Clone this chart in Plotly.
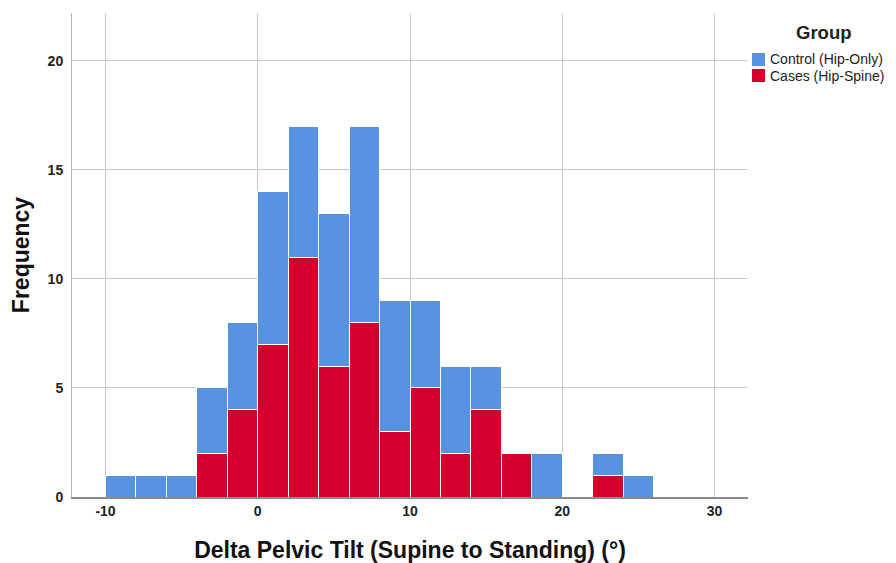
import plotly.graph_objects as go

bin_left = [-10, -8, -6, -4, -2, 0, 2, 4, 6, 8, 10, 12, 14, 16, 18, 20, 22, 24]
total_counts = [1, 1, 1, 5, 8, 14, 17, 13, 17, 9, 9, 6, 6, 2, 2, 0, 2, 1]
cases_counts = [0, 0, 0, 2, 4, 7, 11, 6, 8, 3, 5, 2, 4, 2, 0, 0, 1, 0]
control_counts = [t - c for t, c in zip(total_counts, cases_counts)]
bin_width = 2
centers = [b + bin_width / 2 for b in bin_left]

x_ticks = [-10, 0, 10, 20, 30]
y_ticks = [0, 5, 10, 15, 20]
legend_labels = ["Control (Hip-Only)", "Cases (Hip-Spine)"]

BLUE = "#5793e1"
RED = "#d3002e"
FONT = "Liberation Sans, Arial, sans-serif"

fig = go.Figure()
fig.add_trace(go.Bar(x=centers, y=cases_counts, width=bin_width,
                     name=legend_labels[1], marker=dict(color=RED, line=dict(color="white", width=1))))
fig.add_trace(go.Bar(x=centers, y=control_counts, width=bin_width,
                     name=legend_labels[0], marker=dict(color=BLUE, line=dict(color="white", width=1))))

W, H = 896, 563
OFF = 8  # page body margin
L, R, T, B = 64, 156, 5, 74
pw = W - L - R
ph = H - T - B

def px_x(x):
    return (x - OFF - L) / pw

def px_y(y):
    return (H - B - (y - OFF)) / ph

shapes = []
annotations = []
for i, (lab, col) in enumerate(zip(legend_labels, [BLUE, RED])):
    y0 = 53 + i * 16
    shapes.append(dict(type="rect", xref="paper", yref="paper",
                       x0=px_x(752), x1=px_x(765), y0=px_y(y0 + 13), y1=px_y(y0),
                       fillcolor=col, line=dict(width=0)))
    annotations.append(dict(text=lab, x=px_x(768), y=px_y(y0 + 6.5), xref="paper", yref="paper",
                            xanchor="left", yanchor="middle", showarrow=False,
                            font=dict(size=14, color="#222", family=FONT)))
annotations.append(dict(text="<b>Group</b>", x=px_x(824), y=px_y(32), xref="paper", yref="paper",
                        xanchor="center", yanchor="middle", showarrow=False,
                        font=dict(size=18.5, color="#222", family=FONT)))

fig.update_layout(
    barmode="stack",
    width=W, height=H,
    margin=dict(l=L, r=R, t=T, b=B, autoexpand=False),
    plot_bgcolor="white", paper_bgcolor="white",
    font=dict(family=FONT, color="black"),
    showlegend=False,
    xaxis=dict(range=[-12.2, 32.2], tickvals=x_ticks, ticktext=[str(v) for v in x_ticks],
               showgrid=True, gridcolor="#c9c9c9", gridwidth=1, automargin=False,
               showline=True, linecolor="#8a8a8a", linewidth=2, zeroline=False,
               ticks="", ticklen=0,
               tickfont=dict(size=14, family=FONT, color="#222", weight="bold"),
               title=dict(text="Delta Pelvic Tilt (Supine to Standing) (°)",
                          font=dict(size=23, weight="bold", color="#111"), standoff=24)),
    yaxis=dict(range=[0, 22.2], tickvals=y_ticks, ticktext=[str(v) for v in y_ticks],
               showgrid=True, gridcolor="#c9c9c9", gridwidth=1, automargin=False,
               showline=True, linecolor="#b5b5b5", linewidth=1, zeroline=False,
               ticks="", ticklen=0, ticklabelstandoff=5,
               tickfont=dict(size=14, family=FONT, color="#222", weight="bold"),
               title=dict(text="Frequency", font=dict(size=23, weight="bold", color="#111"),
                          standoff=19)),
    shapes=shapes,
    annotations=annotations,
)

fig.write_html("out.html")
